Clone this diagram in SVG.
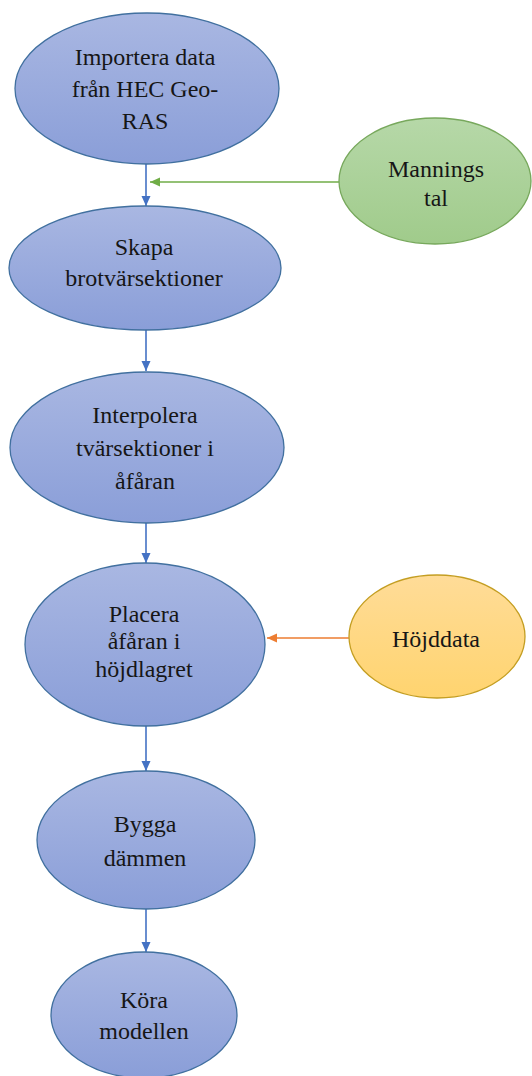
<svg xmlns="http://www.w3.org/2000/svg" width="532" height="1076" viewBox="0 0 532 1076">
<style>
.lbl{font-family:"Liberation Serif","Times New Roman",serif;font-size:24px;fill:#161616;text-anchor:middle}
.blue{fill:url(#gBlue);stroke:#41709F;stroke-width:1.3}
.green{fill:url(#gGreen);stroke:#77A85C;stroke-width:1.3}
.yellow{fill:url(#gYellow);stroke:#C49E22;stroke-width:1.3}
.cb{stroke:#4472C4;stroke-width:1.6;fill:none}
.cg{stroke:#70AD47;stroke-width:1.6;fill:none}
.co{stroke:#ED7D31;stroke-width:1.6;fill:none}
</style>
<defs>
<linearGradient id="gBlue" x1="0" y1="0" x2="0" y2="1"><stop offset="0" stop-color="#A9B7E2"/><stop offset="1" stop-color="#8A9ED8"/></linearGradient>
<linearGradient id="gGreen" x1="0" y1="0" x2="0" y2="1"><stop offset="0" stop-color="#B6D8A8"/><stop offset="1" stop-color="#A0CB8B"/></linearGradient>
<linearGradient id="gYellow" x1="0" y1="0" x2="0" y2="1"><stop offset="0" stop-color="#FFDC98"/><stop offset="1" stop-color="#FFD46F"/></linearGradient>
<marker id="aB" viewBox="0 0 10 10" refX="10" refY="5" markerWidth="10" markerHeight="10" markerUnits="userSpaceOnUse" orient="auto"><path d="M0,0.5 L10,5 L0,9.5 z" fill="#4472C4"/></marker>
<marker id="aG" viewBox="0 0 10 10" refX="10" refY="5" markerWidth="11" markerHeight="10" markerUnits="userSpaceOnUse" orient="auto"><path d="M0,0.5 L10,5 L0,9.5 z" fill="#70AD47"/></marker>
<marker id="aO" viewBox="0 0 10 10" refX="10" refY="5" markerWidth="11" markerHeight="10" markerUnits="userSpaceOnUse" orient="auto"><path d="M0,0.5 L10,5 L0,9.5 z" fill="#ED7D31"/></marker>
</defs>
<rect width="532" height="1076" fill="#FFFFFF"/>
<g id="connectors">
<line class="cb" x1="146" y1="164" x2="146" y2="206" marker-end="url(#aB)"/>
<line class="cg" x1="339" y1="182" x2="150" y2="182" marker-end="url(#aG)"/>
<line class="cb" x1="146" y1="330" x2="146" y2="371" marker-end="url(#aB)"/>
<line class="cb" x1="146" y1="523" x2="146" y2="563" marker-end="url(#aB)"/>
<line class="co" x1="349" y1="638" x2="267" y2="638" marker-end="url(#aO)"/>
<line class="cb" x1="146" y1="726" x2="146" y2="771" marker-end="url(#aB)"/>
<line class="cb" x1="146" y1="909" x2="146" y2="952" marker-end="url(#aB)"/>
</g>
<g id="n1">
<ellipse class="blue" cx="147" cy="88.5" rx="132" ry="75.5"/>
<text class="lbl" x="145" y="65">Importera data</text>
<text class="lbl" x="145" y="97">från HEC Geo-</text>
<text class="lbl" x="145" y="129">RAS</text>
</g>
<g id="n2">
<ellipse class="blue" cx="145" cy="268" rx="136" ry="62"/>
<text class="lbl" x="144" y="255">Skapa</text>
<text class="lbl" x="144" y="286">brotvärsektioner</text>
</g>
<g id="n3">
<ellipse class="blue" cx="147" cy="447.5" rx="137" ry="75.5"/>
<text class="lbl" x="145" y="423">Interpolera</text>
<text class="lbl" x="145" y="456">tvärsektioner i</text>
<text class="lbl" x="145" y="489">åfåran</text>
</g>
<g id="n4">
<ellipse class="blue" cx="145" cy="644.5" rx="120" ry="81.5"/>
<text class="lbl" x="144" y="622">Placera</text>
<text class="lbl" x="144" y="649">åfåran i</text>
<text class="lbl" x="144" y="677">höjdlagret</text>
</g>
<g id="n5">
<ellipse class="blue" cx="146" cy="840" rx="109" ry="69"/>
<text class="lbl" x="145" y="832">Bygga</text>
<text class="lbl" x="145" y="866">dämmen</text>
</g>
<g id="n6">
<ellipse class="blue" cx="144" cy="1015" rx="93" ry="63"/>
<text class="lbl" x="144" y="1008">Köra</text>
<text class="lbl" x="144" y="1039">modellen</text>
</g>
<g id="n7">
<ellipse class="green" cx="435" cy="181" rx="96" ry="63"/>
<text class="lbl" x="436" y="177">Mannings</text>
<text class="lbl" x="436" y="206">tal</text>
</g>
<g id="n8">
<ellipse class="yellow" cx="437" cy="636.5" rx="88" ry="61.5"/>
<text class="lbl" x="436" y="647">Höjddata</text>
</g>
</svg>
